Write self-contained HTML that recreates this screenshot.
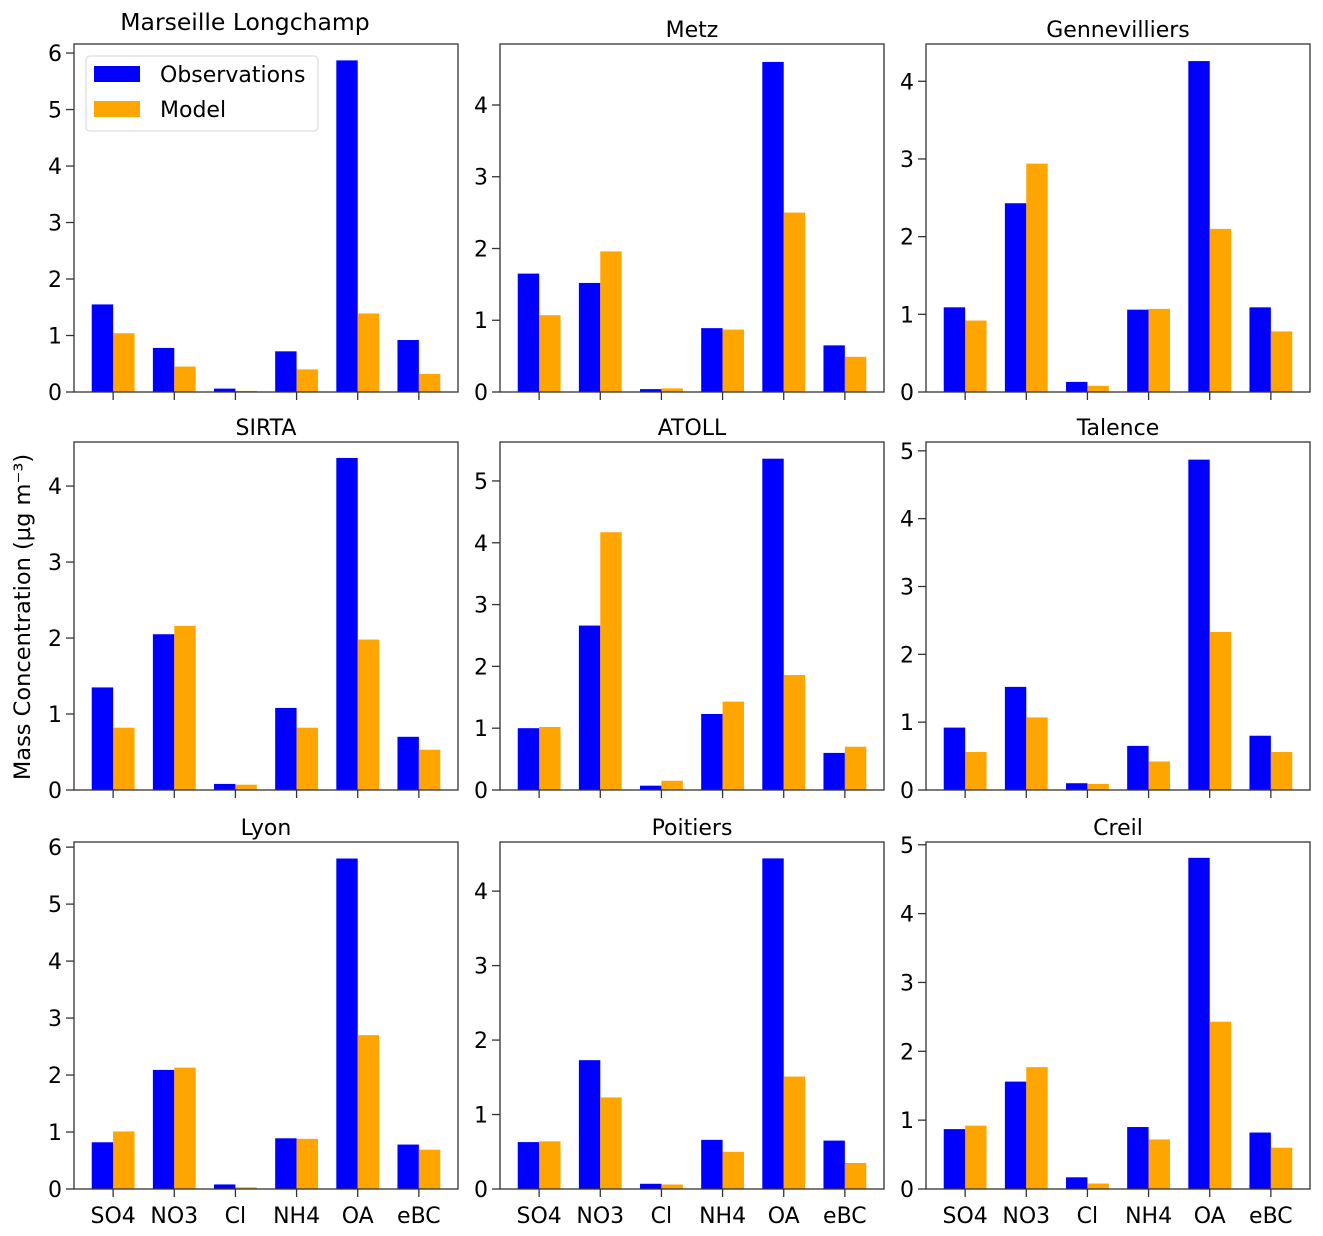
<!DOCTYPE html>
<html><head><meta charset="utf-8"><style>
body{margin:0;background:#fff}
svg{display:block;font-family:"Liberation Sans","DejaVu Sans",sans-serif}
.dj{font-family:"DejaVu Sans","Liberation Sans",sans-serif}
</style></head><body>
<svg id="chart" width="1323" height="1236" viewBox="0 0 1323 1236" xmlns="http://www.w3.org/2000/svg"></svg>
<script>
const categories = ["SO4","NO3","Cl","NH4","OA","eBC"];
const stations = ["Marseille Longchamp","Metz","Gennevilliers","SIRTA","ATOLL","Talence","Lyon","Poitiers","Creil"];
const obsMarseille = [1.55,0.78,0.06,0.72,5.87,0.92];
const modMarseille = [1.04,0.45,0.02,0.40,1.39,0.32];
const obsMetz = [1.65,1.52,0.04,0.89,4.60,0.65];
const modMetz = [1.07,1.96,0.05,0.87,2.50,0.49];
const obsGenn = [1.09,2.43,0.13,1.06,4.26,1.09];
const modGenn = [0.92,2.94,0.08,1.07,2.10,0.78];
const obsSirta = [1.35,2.05,0.08,1.08,4.37,0.70];
const modSirta = [0.82,2.16,0.07,0.82,1.98,0.53];
const obsAtoll = [1.00,2.66,0.07,1.23,5.36,0.60];
const modAtoll = [1.02,4.17,0.15,1.43,1.86,0.70];
const obsTalence = [0.92,1.52,0.10,0.65,4.87,0.80];
const modTalence = [0.56,1.07,0.09,0.42,2.33,0.56];
const obsLyon = [0.82,2.09,0.08,0.89,5.80,0.78];
const modLyon = [1.01,2.13,0.03,0.88,2.70,0.69];
const obsPoitiers = [0.63,1.73,0.07,0.66,4.44,0.65];
const modPoitiers = [0.64,1.23,0.06,0.50,1.51,0.35];
const obsCreil = [0.87,1.56,0.17,0.90,4.81,0.82];
const modCreil = [0.92,1.77,0.08,0.72,2.43,0.60];
const obsSeries = [obsMarseille,obsMetz,obsGenn,obsSirta,obsAtoll,obsTalence,obsLyon,obsPoitiers,obsCreil];
const modSeries = [modMarseille,modMetz,modGenn,modSirta,modAtoll,modTalence,modLyon,modPoitiers,modCreil];
const yMaxes = [6.16,4.85,4.48,4.58,5.63,5.13,6.09,4.66,5.04];
const yTicks = [[0,1,2,3,4,5,6],[0,1,2,3,4],[0,1,2,3,4],[0,1,2,3,4],[0,1,2,3,4,5],[0,1,2,3,4,5],[0,1,2,3,4,5,6],[0,1,2,3,4],[0,1,2,3,4,5]];

const NS="http://www.w3.org/2000/svg";
const svg=document.getElementById('chart');
function mk(tag,attrs,parent,text){const e=document.createElementNS(NS,tag);for(const k in attrs)e.setAttribute(k,attrs[k]);if(text!==undefined)e.textContent=text;(parent||svg).appendChild(e);return e;}
const colX=[74,500,926], rowTop=[44,442,842], rowBot=[392,790,1189], W=384;
stations.forEach((name,i)=>{
  const c=i%3, r=Math.floor(i/3);
  const x0=colX[c], top=rowTop[r], bot=rowBot[r], H=bot-top;
  const g=mk('g',{});
  
  
  const xs=k=>x0+(k+0.64)/6.28*W;
  const ys=v=>bot-v/yMaxes[i]*H;
  const bw=W/6.28*0.35;
  categories.forEach((cat,k)=>{
    const o=mk('rect',{x:xs(k)-bw,y:ys(obsSeries[i][k]),width:bw,height:bot-ys(obsSeries[i][k]),fill:'#0000ff'},g);
    
    
    const m=mk('rect',{x:xs(k),y:ys(modSeries[i][k]),width:bw,height:bot-ys(modSeries[i][k]),fill:'#ffa500'},g);
    
    
    mk('line',{x1:xs(k),x2:xs(k),y1:bot,y2:bot+8,stroke:'#333','stroke-width':1.3},g);
    if(r===2){const t=mk('text',{x:xs(k),y:bot+34,'font-size':22,'text-anchor':'middle',fill:'#000',class:'dj'},g,cat);
      
      }
  });
  yTicks[i].forEach(v=>{
    mk('line',{x1:x0-8,x2:x0,y1:ys(v),y2:ys(v),stroke:'#333','stroke-width':1.3},g);
    const t=mk('text',{x:x0-12,y:ys(v)+8,'font-size':22,'text-anchor':'end',fill:'#000',class:'dj'},g,String(v));
    
    
  });
  const f=mk('rect',{x:x0,y:top,width:W,height:H,fill:'none',stroke:'#333','stroke-width':1.3},g);
  
  
  const tt=mk('text',{x:x0+W/2+(i===0?-21:0),y:(i===0?top-14:top-7),'font-size':(i===0?23.5:22),'text-anchor':'middle',fill:'#000',class:'dj'},g,name);
  
  
});
const yl=mk('text',{x:0,y:0,transform:'translate(30,617) rotate(-90)','font-size':22.5,'text-anchor':'middle',fill:'#000',class:'dj'},svg,'Mass Concentration (µg m⁻³)');


const lg=mk('g',{});


mk('rect',{x:86,y:56,width:232,height:75,rx:4,fill:'#fff',stroke:'#ddd','stroke-width':1.3},lg);
mk('rect',{x:94,y:66,width:46,height:16,fill:'#0000ff'},lg);
mk('rect',{x:94,y:101,width:46,height:16,fill:'#ffa500'},lg);
const l1=mk('text',{x:160,y:82,'font-size':22,fill:'#000',class:'dj'},lg,'Observations');


const l2=mk('text',{x:160,y:117,'font-size':22,fill:'#000',class:'dj'},lg,'Model');


</script>
</body></html>
